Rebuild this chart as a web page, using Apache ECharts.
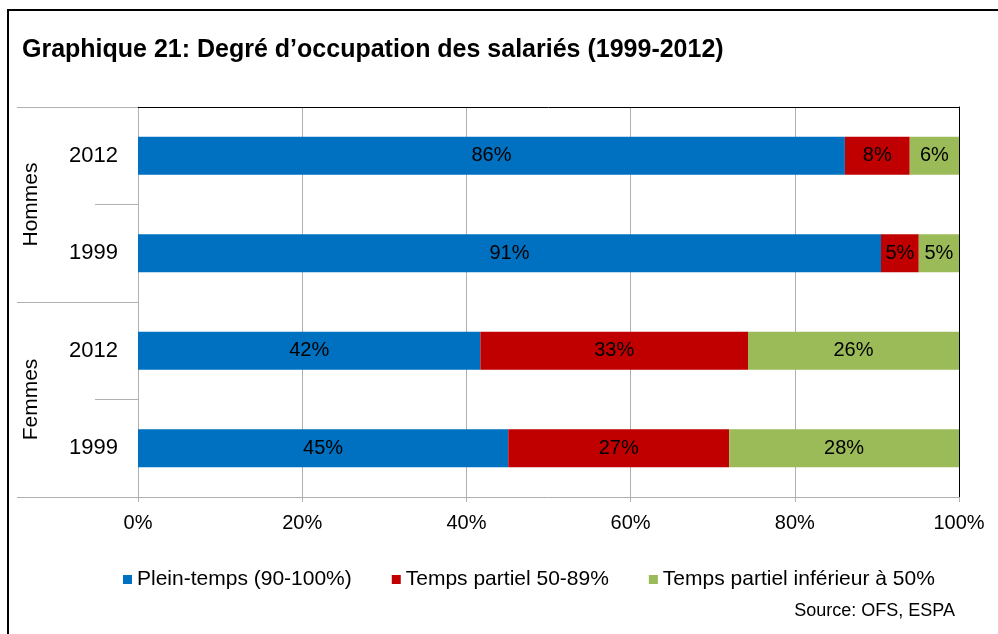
<!DOCTYPE html>
<html>
<head>
<meta charset="utf-8">
<script src="https://cdn.jsdelivr.net/npm/echarts@6/dist/echarts.min.js"></script>
<style>
html, body { margin: 0; padding: 0; background: #fff; }
#main { width: 998px; height: 634px; }
</style>
</head>
<body>
<div id="main"></div>
<script>
// categories, bottom to top
var years = ['1999', '2012', '1999', '2012'];
var groups = ['Femmes', 'Hommes'];
var xTicks = [0, 20, 40, 60, 80, 100];

// shares in %
var pleinTemps = [45.1, 41.7, 90.5, 86.1];
var partiel5089 = [26.9, 32.6, 4.6, 7.9];
var partielInf50 = [28.0, 25.7, 4.9, 6.0];

var seriesNames = ['Plein-temps (90-100%)', 'Temps partiel 50-89%', 'Temps partiel inférieur à 50%'];
var seriesColors = ['#0070C0', '#C00000', '#9BBB59'];

var font = 'Liberation Sans, Arial, sans-serif';
var gridGray = '#B0B0B0';

var myChart = echarts.init(document.getElementById('main'));

var makeSeries = function(name, data, color){
    return {
        name: name,
        type: 'bar',
        stack: 'total',
        barWidth: '39%',
        color: color,
        data: data,
        label: {
            show: true,
            position: 'inside',
            color: '#000',
            fontFamily: font,
            fontSize: 20,
            formatter: function(p){ return Math.round(p.value) + '%'; }
        }
    };
};

var option = {
    animation: false,
    title: {
        text: 'Graphique 21: Degré d\u2019occupation des salariés (1999-2012)',
        left: 17,
        top: 33,
        textStyle: { fontFamily: font, fontSize: 25, fontWeight: 'bold', color: '#000' }
    },
    legend: {
        left: 118,
        top: 564,
        itemGap: 40,
        itemWidth: 9,
        itemHeight: 9,
        icon: 'rect',
        textStyle: { fontFamily: font, fontSize: 21, color: '#000' },
        data: seriesNames
    },
    grid: { left: 138, right: 39, top: 107, bottom: 137 },
    xAxis: [{
        type: 'value',
        min: xTicks[0],
        max: xTicks[xTicks.length - 1],
        interval: 20,
        axisLine: { show: true, lineStyle: { color: gridGray } },
        axisTick: { show: true, length: 5, lineStyle: { color: gridGray } },
        splitLine: { show: true, lineStyle: { color: gridGray } },
        axisLabel: { margin: 16, color: '#000', fontFamily: font, fontSize: 20, formatter: '{value}%' }
    }, {
        type: 'value',
        position: 'top',
        min: 0,
        max: 100,
        axisLine: { show: true, lineStyle: { color: '#000' } },
        axisTick: { show: false },
        splitLine: { show: false },
        axisLabel: { show: false }
    }],
    yAxis: [{
        type: 'category',
        data: years,
        axisLine: { show: true, lineStyle: { color: gridGray } },
        axisTick: { show: true, length: 43, lineStyle: { color: gridGray } },
        axisLabel: { margin: 20, color: '#000', fontFamily: font, fontSize: 22 }
    }, {
        type: 'category',
        position: 'left',
        data: groups,
        axisLine: { show: false },
        axisTick: { show: true, length: 121, lineStyle: { color: gridGray } },
        axisLabel: { rotate: 90, margin: 96, color: '#000', fontFamily: font, fontSize: 21 }
    }, {
        type: 'value',
        position: 'right',
        axisLine: { show: true, lineStyle: { color: '#000' } },
        axisTick: { show: false },
        splitLine: { show: false },
        axisLabel: { show: false }
    }],
    graphic: [{
        type: 'rect',
        shape: { x: 8, y: 10, width: 1100, height: 800 },
        style: { fill: 'none', stroke: '#000', lineWidth: 2 },
        silent: true
    }, {
        type: 'text',
        right: 43,
        top: 602,
        style: { text: 'Source: OFS, ESPA', fill: '#000', font: '18px ' + font }
    }],
    series: [
        makeSeries(seriesNames[0], pleinTemps, seriesColors[0]),
        makeSeries(seriesNames[1], partiel5089, seriesColors[1]),
        makeSeries(seriesNames[2], partielInf50, seriesColors[2])
    ]
};

myChart.setOption(option);
</script>
</body>
</html>
